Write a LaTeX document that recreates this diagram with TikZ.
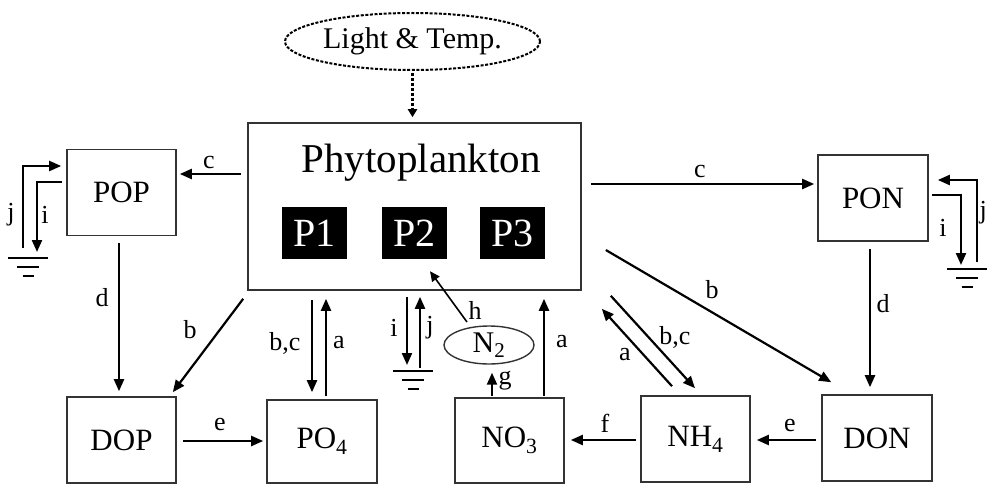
\documentclass[tikz,border=0pt]{standalone}
\usepackage{fontspec}
\setmainfont{Liberation Serif}
\usetikzlibrary{arrows.meta,calc,shapes.geometric}
\begin{document}
\begin{tikzpicture}[x=1pt,y=-1pt,
  box/.style={draw=black!80,line width=1.6pt,minimum width=109pt,minimum height=86pt,inner sep=0pt,font=\fontsize{31}{34}\selectfont},
  pbox/.style={fill=black,text=white,minimum width=65pt,minimum height=52pt,inner sep=0pt,font=\fontsize{40}{44}\selectfont},
  arr/.style={line width=2.2pt,-{Triangle[length=12pt,width=10pt]}},
  lab/.style={inner sep=0pt,font=\fontsize{26}{30}\selectfont},
  gline/.style={line width=2pt},
  ground/.pic={\draw[gline] (-20,0)--(20,0) (-11,9)--(11,9) (-5.5,18)--(5.5,18);}
]
\useasboundingbox (0,0) rectangle (987,484);
% nodes
\node[draw=black,line width=2pt,dash pattern=on 3pt off 1.6pt,ellipse,minimum width=255pt,minimum height=57pt,inner sep=0pt,font=\fontsize{30}{34}\selectfont] (light) at (412.5,41.5) {Light \& Temp.};
\node[draw=black!80,line width=1.6pt,minimum width=333pt,minimum height=167pt,inner sep=0pt] (phy) at (414.5,206.5) {};
\node[inner sep=0pt,font=\fontsize{41}{45}\selectfont] (phyt) at (421,163) {Phytoplankton};
\node[pbox] (p1) at (314.5,233) {P1};
\node[pbox] (p2) at (414.5,233) {P2};
\node[pbox] (p3) at (512.5,233) {P3};
\node[box] (pop) at (121.5,192.5) {POP};
\node[box,minimum width=110pt] (pon) at (873,198) {PON};
\node[box] (dop) at (121.5,440) {DOP};
\node[box,minimum width=110pt,minimum height=83pt] (po4) at (322,441.5) {PO\textsubscript{4}};
\node[box,minimum height=85pt] (no3) at (509.5,440.5) {NO\textsubscript{3}};
\node[box] (nh4) at (695.5,439) {NH\textsubscript{4}};
\node[box,minimum width=110pt] (don) at (877,438) {DON};
\node[draw=black!80,line width=1.4pt,ellipse,minimum width=90pt,minimum height=38pt,inner sep=0pt,font=\fontsize{30}{34}\selectfont] (n2) at (489,345) {N\textsubscript{2}};
% grounds
\coordinate (gL) at (28,258);
\coordinate (gM) at (413,371);
\coordinate (gR) at (967,269);
\pic at (gL) {ground};
\pic at (gM) {ground};
\pic at (gR) {ground};
% connectors
\draw[line width=2.5pt,dash pattern=on 3pt off 2pt,-{Triangle[length=8pt,width=9pt]}] ($(light.south)+(0,2)$) -- ($(phy.north)+(-2,-5)$);
\draw[arr] ($(phy.west)+(-6,-32.5)$) -- ($(pop.east)+(3,-18.5)$);
\draw[arr] ($(phy.east)+(9,-22.5)$) -- ($(pon.west)+(-3,-14)$);
\draw[arr] ($(pop.south)+(-2.5,7)$) -- ($(dop.north)+(-2.5,-5)$);
\draw[arr] ($(pon.south)+(-3,7)$) -- ($(don.north)+(-7,-7)$);
\draw[arr] ($(phy.south west)+(-4,8)$) -- ($(dop.north east)+(-4,-4)$);
\draw[arr] ($(phy.south)+(-102.5,9)$) -- ($(po4.north)+(-10,-7)$);
\draw[arr] ($(po4.north)+(4,-3)$) -- ($(phy.south)+(-88.5,8)$);
\draw[arr] ($(phy.south)+(-7.5,6)$) -- ($(gM)+(-6,-6)$);
\draw[arr] ($(gM)+(7,-3)$) -- ($(phy.south)+(5.5,6)$);
\draw[line width=1.6pt,-{Triangle[length=10pt,width=9pt]}] ($(n2.center)+(-22,-23)$) -- ($(p2.south)+(15.5,12)$);
\draw[arr] ($(no3.north)+(-17.5,-1)$) -- ($(n2.south)+(3,8)$);
\draw[arr] ($(no3.north)+(34.5,-1)$) -- ($(phy.south)+(129.5,8)$);
\draw[arr] ($(nh4.north)+(-23.5,-9)$) -- ($(phy.south east)+(20,18)$);
\draw[arr] ($(phy.south east)+(29,5)$) -- ($(nh4.north)+(-0.5,-7)$);
\draw[arr] ($(phy.east)+(24,43.5)$) -- ($(don.north west)+(10,-12)$);
\draw[arr] ($(don.west)+(-5,2)$) -- ($(nh4.east)+(6,1)$);
\draw[arr] ($(nh4.west)+(-4,1)$) -- ($(no3.east)+(6,-0.5)$);
\draw[arr] ($(dop.east)+(6,1)$) -- ($(po4.west)+(-3,-0.5)$);
\draw[arr] ($(gL)+(-5,-10)$) |- ($(pop.west)+(-5,-26.5)$);
\draw[arr] ($(pop.west)+(-4,-10.5)$) -| ($(gL)+(9,-6)$);
\draw[arr] ($(pon.east)+(3,-3)$) -| ($(gR)+(-6,-4)$);
\draw[arr] ($(gR)+(10,-7)$) |- ($(pon.east)+(9,-18)$);
% labels
\node[lab] (lc1) at (209,163) {c};
\node[lab] (lc2) at (700,172) {c};
\node[lab] (ld1) at (102,298) {d};
\node[lab] (ld2) at (883,304) {d};
\node[lab] (lb1) at (190,330) {b};
\node[lab] (lbc1) at (285,343) {b,c};
\node[lab] (la1) at (339,343) {a};
\node[lab] (li1) at (394,328) {i};
\node[lab] (lj1) at (430,328) {j};
\node[lab] (lh) at (475,310) {h};
\node[lab] (lg) at (505,381) {g};
\node[lab] (la2) at (562,342) {a};
\node[lab] (la3) at (625,355) {a};
\node[lab] (lbc2) at (675,337) {b,c};
\node[lab] (lb2) at (712,290) {b};
\node[lab] (le1) at (220,424) {e};
\node[lab] (lf) at (605,423) {f};
\node[lab] (le2) at (790,425) {e};
\node[lab] (lj2) at (11,215) {j};
\node[lab] (li2) at (45,215) {i};
\node[lab] (li3) at (943,228) {i};
\node[lab] (lj3) at (983.3,213) {j};
\end{tikzpicture}
\end{document}
